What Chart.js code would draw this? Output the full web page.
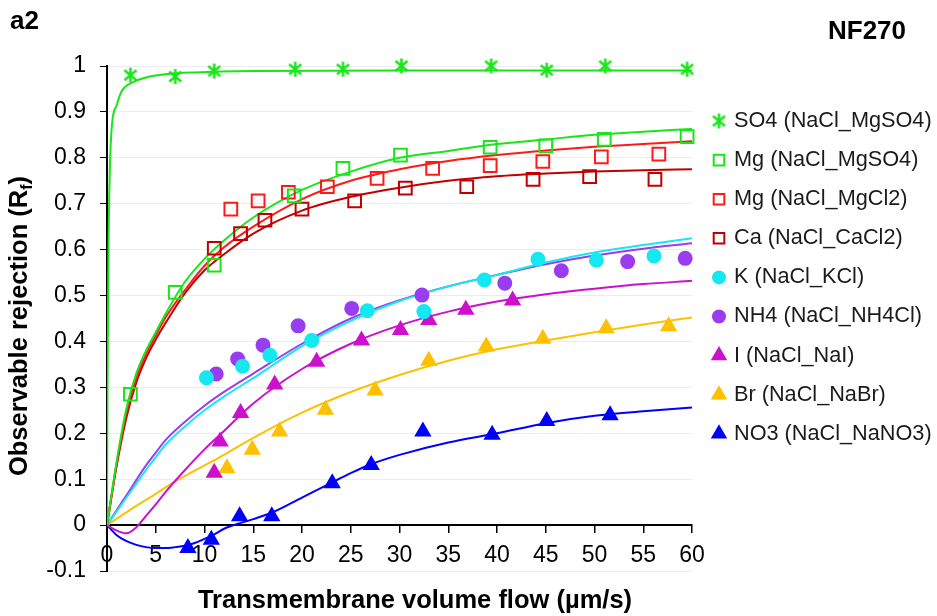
<!DOCTYPE html>
<html>
<head>
<meta charset="utf-8">
<title>NF270 observable rejection</title>
<script src="https://cdn.jsdelivr.net/npm/chart.js@4.4.1/dist/chart.umd.min.js"></script>
<style>
  html, body { margin: 0; padding: 0; background: #fff; }
  #wrap { position: relative; width: 937px; height: 616px; }
</style>
</head>
<body>
<div id="wrap"><canvas id="rejectionChart" width="937" height="616"></canvas></div>
<script>
const FONT = "'Liberation Sans', Arial, sans-serif";

// texts
const panelLabel = 'a2';
const membraneLabel = 'NF270';
const xTitle = 'Transmembrane volume flow (µm/s)';
const yTitleMain = 'Observable rejection (R';
const yTitleSub = 'f';
const yTitleEnd = ')';

// measured points (x = flux in µm/s, y = rejection)
const so4X = [2.4, 7.0, 11.0, 19.3, 24.2, 30.2, 39.4, 45.1, 51.1, 59.5];
const so4Y = [0.980, 0.977, 0.989, 0.993, 0.993, 1.0, 1.0, 0.991, 1.0, 0.993];

const mgSO4X = [2.4, 7.0, 11.0, 19.2, 24.2, 30.1, 39.3, 45.0, 51.0, 59.5];
const mgSO4Y = [0.285, 0.507, 0.566, 0.717, 0.777, 0.806, 0.823, 0.826, 0.840, 0.846];

const mgCl2X = [12.7, 15.5, 18.6, 22.6, 27.7, 33.4, 39.3, 44.7, 50.7, 56.6];
const mgCl2Y = [0.688, 0.706, 0.725, 0.737, 0.755, 0.777, 0.783, 0.792, 0.802, 0.808];

const caX = [11.0, 13.7, 16.2, 20.0, 25.4, 30.6, 36.9, 43.7, 49.5, 56.2];
const caY = [0.603, 0.635, 0.664, 0.688, 0.706, 0.734, 0.737, 0.753, 0.759, 0.753];

const kX = [10.2, 13.9, 16.7, 21.0, 26.7, 32.5, 38.7, 44.2, 50.2, 56.1];
const kY = [0.321, 0.346, 0.370, 0.402, 0.467, 0.465, 0.534, 0.579, 0.577, 0.586];

const nh4X = [11.2, 13.4, 16.0, 19.6, 25.1, 32.3, 40.8, 46.6, 53.4, 59.3];
const nh4Y = [0.329, 0.362, 0.392, 0.434, 0.472, 0.501, 0.527, 0.554, 0.574, 0.581];

const iX = [11.0, 11.6, 13.7, 17.2, 21.5, 26.1, 30.1, 33.0, 36.8, 41.6];
const iY = [0.114, 0.182, 0.244, 0.306, 0.356, 0.402, 0.425, 0.447, 0.469, 0.489];

const brX = [12.3, 14.9, 17.7, 22.4, 27.5, 33.0, 38.9, 44.7, 51.2, 57.6];
const brY = [0.124, 0.164, 0.204, 0.251, 0.293, 0.358, 0.389, 0.406, 0.429, 0.433];

const no3X = [8.3, 10.7, 13.6, 16.9, 23.1, 27.1, 32.4, 39.5, 45.1, 51.6];
const no3Y = [-0.050, -0.032, 0.019, 0.019, 0.091, 0.131, 0.204, 0.197, 0.227, 0.239];

// fitted model curves
const fitX = [0, 1, 2, 3, 4, 5, 6, 8, 10, 12, 15, 20, 25, 30, 35, 40, 45, 50, 55, 60];
const mgSO4Fit = [0, 0.14, 0.255, 0.33, 0.38, 0.42, 0.46, 0.53, 0.58, 0.62, 0.67, 0.73, 0.77, 0.80, 0.815, 0.83, 0.84, 0.85, 0.857, 0.863];
const mgCl2Fit = [0, 0.135, 0.245, 0.32, 0.372, 0.413, 0.452, 0.512, 0.565, 0.605, 0.65, 0.71, 0.75, 0.775, 0.793, 0.806, 0.816, 0.824, 0.83, 0.836];
const caFit = [0, 0.13, 0.235, 0.31, 0.363, 0.404, 0.44, 0.505, 0.555, 0.59, 0.635, 0.685, 0.715, 0.735, 0.75, 0.76, 0.766, 0.77, 0.773, 0.775];
const kFit = [0, 0.03, 0.06, 0.09, 0.12, 0.148, 0.175, 0.215, 0.25, 0.28, 0.32, 0.39, 0.445, 0.488, 0.52, 0.545, 0.572, 0.594, 0.61, 0.625];
const nh4Fit = [0, 0.033, 0.065, 0.098, 0.13, 0.158, 0.185, 0.225, 0.26, 0.29, 0.33, 0.395, 0.45, 0.49, 0.52, 0.545, 0.568, 0.587, 0.602, 0.614];
const iFit = [0, -0.012, -0.018, -0.005, 0.02, 0.045, 0.072, 0.12, 0.165, 0.205, 0.265, 0.34, 0.395, 0.435, 0.465, 0.487, 0.503, 0.515, 0.525, 0.532];
const brFit = [0, 0.014, 0.028, 0.042, 0.055, 0.068, 0.082, 0.107, 0.13, 0.153, 0.19, 0.245, 0.29, 0.327, 0.358, 0.383, 0.402, 0.42, 0.437, 0.452];

const so4FitX = [0, 0.05, 0.15, 0.3, 0.5, 1, 1.5, 2.5, 4, 6, 9, 15, 30, 60];
const so4Fit = [0, 0.3, 0.6, 0.78, 0.87, 0.915, 0.945, 0.963, 0.975, 0.982, 0.986, 0.989, 0.99, 0.99];

const no3FitX = [0, 1, 2, 3, 4, 5, 6, 7, 8, 9, 10, 11, 12, 13, 15, 17, 20, 23, 25, 27, 30, 35, 40, 45, 50, 55, 60];
const no3Fit = [0, -0.022, -0.035, -0.043, -0.048, -0.05, -0.05, -0.048, -0.045, -0.039, -0.03, -0.02, -0.008, 0, 0.013, 0.028, 0.06, 0.092, 0.113, 0.132, 0.153, 0.18, 0.2, 0.222, 0.238, 0.248, 0.256];

// axis ticks
const xMin = 0, xMax = 60, xStep = 5;
const yMin = -0.1, yMax = 1, yStep = 0.1;

function pts(xs, ys) {
  return xs.map((x, i) => ({ x: x, y: ys[i] }));
}

function makeAsterisk(color) {
  const c = document.createElement('canvas');
  c.width = 17; c.height = 17;
  const g = c.getContext('2d');
  g.strokeStyle = color;
  g.lineWidth = 2.5;
  g.beginPath();
  g.moveTo(2.5, 3.5); g.lineTo(14.5, 13.5);
  g.moveTo(14.5, 3.5); g.lineTo(2.5, 13.5);
  g.moveTo(8.5, 1); g.lineTo(8.5, 16);
  g.stroke();
  return c;
}

function markerSet(label, xs, ys, color, style, radius, hollow) {
  return {
    label: label,
    data: pts(xs, ys),
    showLine: false,
    pointStyle: style,
    pointRadius: radius,
    pointBorderWidth: 2,
    pointBorderColor: color,
    pointBackgroundColor: hollow ? 'rgba(0,0,0,0)' : color,
    clip: false
  };
}

function fitSet(xs, ys, color) {
  return {
    data: pts(xs, ys),
    showLine: true,
    borderColor: color,
    borderWidth: 2,
    pointRadius: 0,
    cubicInterpolationMode: 'monotone',
    fill: false
  };
}

const green = '#19e619';
const red = '#ff1a1a';
const darkRed = '#c00000';
const cyan = '#14e8f0';
const purple = '#9a3cf0';
const magenta = '#cc10cc';
const gold = '#ffc000';
const blue = '#0000ff';

const datasets = [
  markerSet('SO4 (NaCl_MgSO4)', so4X, so4Y, green, makeAsterisk(green), 8, false),
  markerSet('Mg (NaCl_MgSO4)', mgSO4X, mgSO4Y, green, 'rect', 9, true),
  markerSet('Mg (NaCl_MgCl2)', mgCl2X, mgCl2Y, red, 'rect', 9, true),
  markerSet('Ca (NaCl_CaCl2)', caX, caY, darkRed, 'rect', 9, true),
  markerSet('K (NaCl_KCl)', kX, kY, cyan, 'circle', 6.5, false),
  markerSet('NH4 (NaCl_NH4Cl)', nh4X, nh4Y, purple, 'circle', 6.5, false),
  markerSet('I (NaCl_NaI)', iX, iY, magenta, 'triangle', 8, false),
  markerSet('Br (NaCl_NaBr)', brX, brY, gold, 'triangle', 8, false),
  markerSet('NO3 (NaCl_NaNO3)', no3X, no3Y, blue, 'triangle', 8, false),
  fitSet(so4FitX, so4Fit, green),
  fitSet(fitX, mgSO4Fit, green),
  fitSet(fitX, mgCl2Fit, red),
  fitSet(fitX, caFit, darkRed),
  fitSet(fitX, kFit, cyan),
  fitSet(fitX, nh4Fit, purple),
  fitSet(fitX, iFit, magenta),
  fitSet(fitX, brFit, gold),
  fitSet(no3FitX, no3Fit, blue)
];

function drawMarker(ctx, style, r, x, y, fill, stroke) {
  if (style instanceof HTMLCanvasElement) {
    ctx.drawImage(style, x - style.width / 2, y - style.height / 2);
    return;
  }
  ctx.beginPath();
  if (style === 'circle') {
    ctx.arc(x, y, r, 0, Math.PI * 2);
  } else if (style === 'rect') {
    const s = r * Math.SQRT1_2;
    ctx.rect(x - s, y - s, 2 * s, 2 * s);
  } else if (style === 'triangle') {
    ctx.moveTo(x, y - r);
    ctx.lineTo(x + r * 0.866, y + r * 0.5);
    ctx.lineTo(x - r * 0.866, y + r * 0.5);
    ctx.closePath();
  }
  ctx.fillStyle = fill;
  ctx.fill();
  ctx.lineWidth = 2;
  ctx.strokeStyle = stroke;
  ctx.stroke();
}

// titles, panel labels and the legend on the right
const figureText = {
  id: 'figureText',
  afterDraw(chart) {
    const ctx = chart.ctx;
    ctx.save();
    ctx.fillStyle = '#000';
    ctx.textBaseline = 'middle';
    ctx.textAlign = 'left';
    ctx.font = `bold 26px ${FONT}`;
    ctx.fillText(panelLabel, 10, 22);
    ctx.fillText(membraneLabel, 828, 32);

    ctx.textAlign = 'center';
    ctx.font = `bold 25.5px ${FONT}`;
    ctx.fillText(xTitle, 415, 601);

    // y title with subscript f
    ctx.save();
    ctx.translate(18, 326);
    ctx.rotate(-Math.PI / 2);
    ctx.textAlign = 'left';
    ctx.textBaseline = 'alphabetic';
    const mainFont = `bold 25.5px ${FONT}`;
    const subFont = `bold 16px ${FONT}`;
    ctx.font = mainFont;
    const w1 = ctx.measureText(yTitleMain).width;
    const w3 = ctx.measureText(yTitleEnd).width;
    ctx.font = subFont;
    const w2 = ctx.measureText(yTitleSub).width;
    let x0 = -(w1 + w2 + w3) / 2;
    ctx.font = mainFont;
    ctx.fillText(yTitleMain, x0, 9);
    ctx.font = subFont;
    ctx.fillText(yTitleSub, x0 + w1, 14);
    ctx.font = mainFont;
    ctx.fillText(yTitleEnd, x0 + w1 + w2, 9);
    ctx.restore();

    // legend
    ctx.textAlign = 'left';
    ctx.textBaseline = 'middle';
    ctx.font = `21.7px ${FONT}`;
    chart.data.datasets.filter(ds => ds.label).forEach((ds, i) => {
      const y = 121 + i * 39.1;
      let r = ds.pointStyle === 'circle' ? 6 : 7.5;
      drawMarker(ctx, ds.pointStyle, r, 719, y, ds.pointBackgroundColor, ds.pointBorderColor);
      ctx.fillStyle = '#1a1a1a';
      ctx.fillText(ds.label, 734, y);
    });
    ctx.restore();
  }
};

function rejectionChart() {
  const ctx = document.getElementById('rejectionChart');

  const config = {
    type: 'scatter',
    data: { datasets: datasets },
    options: {
      responsive: false,
      animation: false,
      events: [],
      devicePixelRatio: 1,
      layout: { padding: { left: 0, top: 66, right: 245, bottom: 45 } },
      plugins: {
        legend: { display: false },
        tooltip: { enabled: false }
      },
      scales: {
        x: {
          type: 'linear',
          min: xMin,
          max: xMax,
          position: { y: 0 },
          border: { display: true, color: '#000', width: 2 },
          grid: { drawOnChartArea: false, drawTicks: true, tickLength: 7, color: '#000', lineWidth: 1.5 },
          ticks: {
            stepSize: xStep,
            autoSkip: false,
            maxRotation: 0,
            padding: 10,
            color: '#000',
            font: { size: 23, family: FONT },
            callback: v => String(v)
          }
        },
        y: {
          type: 'linear',
          min: yMin,
          max: yMax,
          position: 'left',
          afterFit: scale => { scale.width = 107; },
          border: { display: true, color: '#000', width: 2 },
          grid: { color: '#ececec', lineWidth: 1, tickColor: '#000', tickLength: 7 },
          ticks: {
            stepSize: yStep,
            padding: 14,
            color: '#000',
            font: { size: 23, family: FONT },
            callback: v => String(Math.round(v * 10) / 10)
          }
        }
      }
    },
    plugins: [figureText]
  };

  new Chart(ctx, config);
}

rejectionChart();
</script>
</body>
</html>
